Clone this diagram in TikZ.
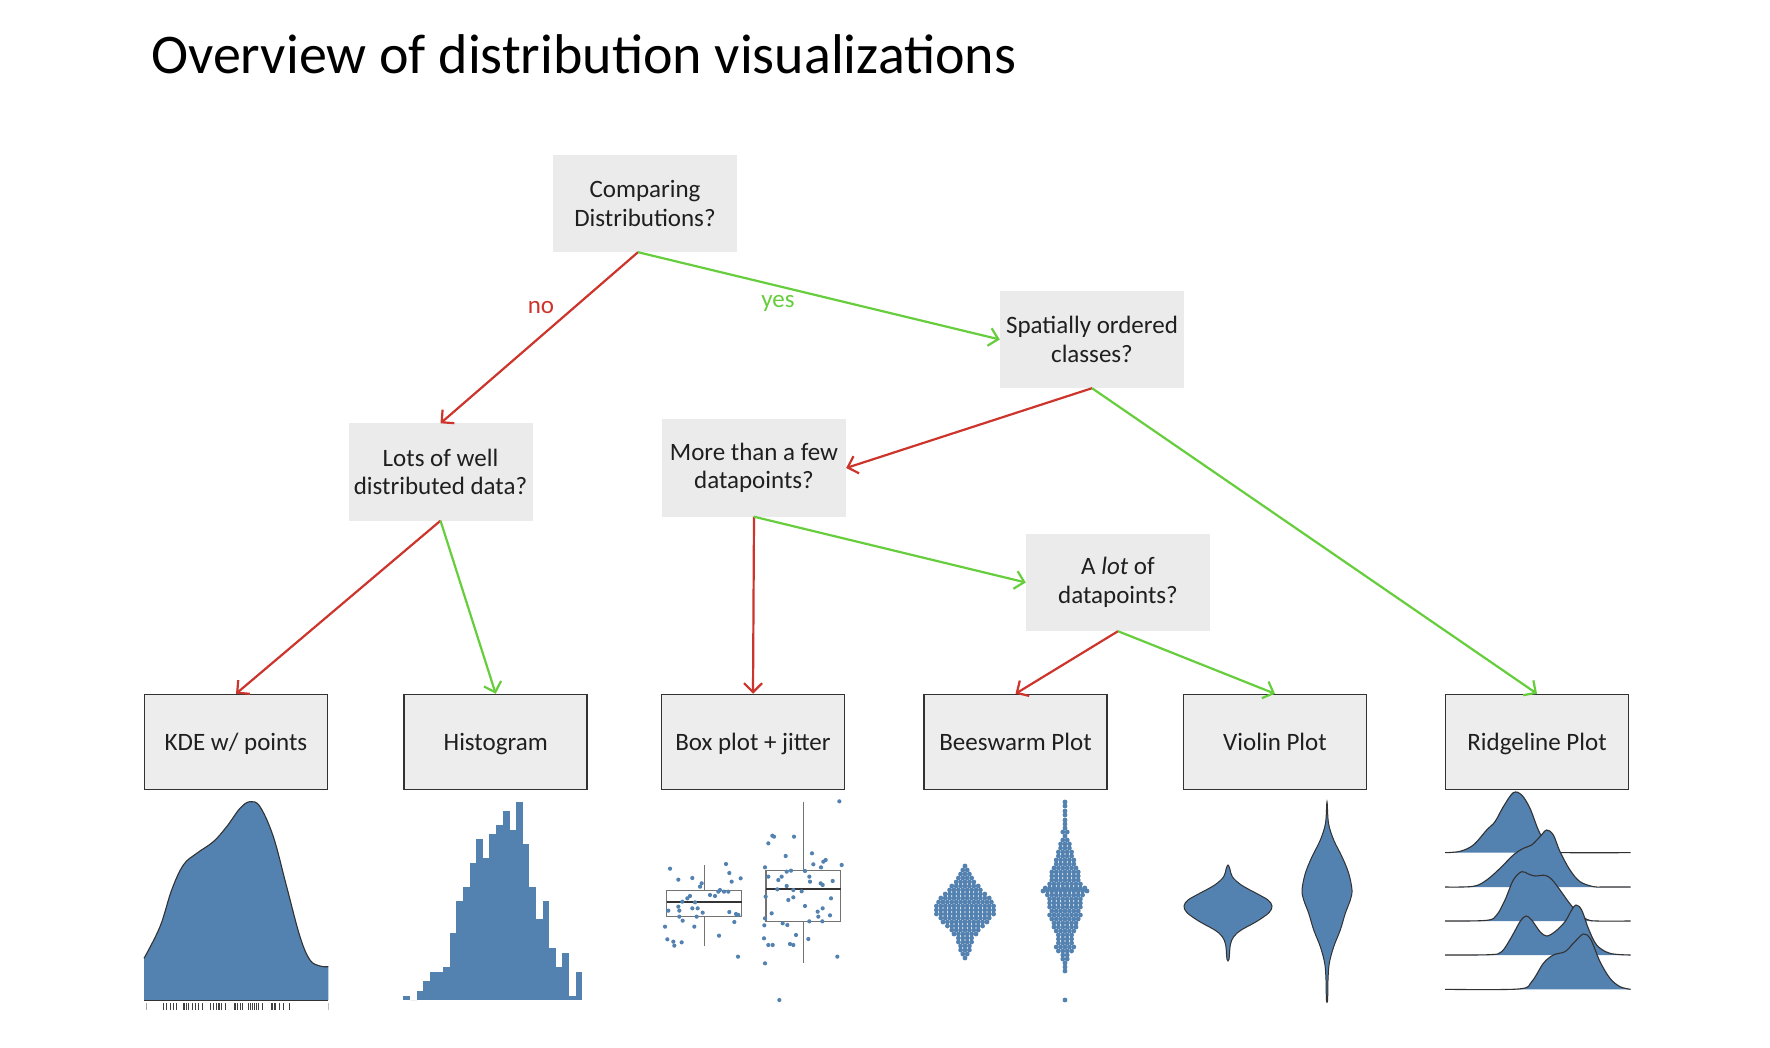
\documentclass[tikz,border=0pt]{standalone}
\usepackage{fontspec}
\setmainfont{Carlito}
\usetikzlibrary{arrows.meta}
\definecolor{boxfill}{RGB}{235,235,235}
\definecolor{pfill}{RGB}{237,237,237}
\definecolor{bluefill}{RGB}{83,129,176}
\definecolor{redarr}{RGB}{204,52,44}
\definecolor{greenarr}{RGB}{102,206,60}
\definecolor{outl}{RGB}{50,50,50}
\begin{document}
\begin{tikzpicture}[x=1pt,y=-1pt,
  qbox/.style={fill=boxfill, minimum width=184pt, minimum height=97pt, align=center, inner sep=0pt, font=\fontsize{25}{28.5}\selectfont, text=black!88},
  pbox/.style={qbox, fill=pfill, draw=outl, line width=1.5pt, minimum width=183pt, minimum height=95pt, text height=20pt, text depth=4pt},
  redarrow/.style={draw=redarr, line width=2.2pt, -{Straight Barb[length=9pt,width=18pt]}},
  greenarrow/.style={draw=greenarr, line width=2.2pt, -{Straight Barb[length=9pt,width=18pt]}},
  dot/.style={fill=bluefill},
  ridge/.style={draw=outl, line width=1.1pt},
]
\useasboundingbox (0,0) rectangle (1770,1048);
\fill[white] (0,0) rectangle (1770,1048);

% title
\node[anchor=base west, inner sep=0pt, font=\fontsize{56}{64}\selectfont] (title) at (151,74) {Overview of distribution visualizations};

% question boxes
\node[qbox] (cmp) at (645,203.5) {Comparing\\Distributions?};
\node[qbox] (spat) at (1092,339.5) {Spatially ordered\\classes?};
\node[qbox] (lots) at (440.5,472) {Lots of well\\distributed data?};
\node[qbox] (more) at (754,468) {More than a few\\datapoints?};
\node[qbox] (alot) at (1118,582.5) {A \textit{lot} of\\datapoints?};

% plot boxes
\node[pbox] (kde) at (236,742) {KDE w/ points};
\node[pbox] (hist) at (495.7,742) {Histogram};
\node[pbox] (boxp) at (753,742) {Box plot + jitter};
\node[pbox] (bees) at (1015.5,742) {Beeswarm Plot};
\node[pbox] (violin) at (1275,742) {Violin Plot};
\node[pbox] (ridgebox) at (1537,742) {Ridgeline Plot};

% connectors
\draw[redarrow] ([xshift=-7pt]cmp.south) -- (lots.north);
\draw[greenarrow] ([xshift=-7pt]cmp.south) -- (spat.west);
\draw[redarrow] (spat.south) -- (more.east);
\draw[greenarrow] (spat.south) -- (ridgebox.north);
\draw[redarrow] (lots.south) -- (kde.north);
\draw[greenarrow] (lots.south) -- (hist.north);
\draw[redarrow] (more.south) -- (boxp.north);
\draw[greenarrow] (more.south) -- (alot.west);
\draw[redarrow] (alot.south) -- (bees.north);
\draw[greenarrow] (alot.south) -- (violin.north);

\node[text=redarr, font=\fontsize{25}{28}\selectfont] (nolab) at (541,308) {no};
\node[text=greenarr, font=\fontsize{25}{28}\selectfont] (yeslab) at (778,303) {yes};

% KDE with rug
\begin{scope}[shift={(100,780)}, x=0.33333pt, y=-0.33333pt]
  \fill[bluefill] (132,660) -- plot[smooth, tension=0.6] coordinates {(132,535) (180,440) (215,330) (250,255) (290,220) (340,185) (380,140) (420,85) (450,65) (480,80) (520,170) (560,320) (600,470) (630,540) (660,558) (685,560)} -- (685,660) -- cycle;
  \draw[outl, line width=1.1pt] plot[smooth, tension=0.6] coordinates {(132,535) (180,440) (215,330) (250,255) (290,220) (340,185) (380,140) (420,85) (450,65) (480,80) (520,170) (560,320) (600,470) (630,540) (660,558) (685,560)};
  \draw[outl, line width=1pt] (132,660) -- (685,660);
  \foreach \xx in {190,200,210,220,230,250,254,258,266,276,286,296,306,330,340,350,354,358,364,376,402,406,412,420,428,446,450,456,462,468,476,486,514,518,522,526,538,550,568}
    \draw[black!75, line width=0.9pt] (\xx,670) -- (\xx,690);
  \draw[black!35, line width=0.7pt] (138,670) -- (138,690);
  \draw[black!25, line width=0.7pt] (684,670) -- (684,690);
\end{scope}

% Histogram
\foreach \h [count=\i from 0] in {4,0,9.3,18.7,28.3,28.3,32.7,66.7,99.3,112.7,137.3,160.7,141.7,165.7,175,189,170,198.3,156,112.7,80.7,99.3,51.7,33.3,47.3,4,28.3}
  \fill[bluefill] (403.3+6.63*\i,1000) rectangle ++(6.8,-\h);

% Box plot + jitter
\begin{scope}[shift={(650,790)}, x=0.33333pt, y=-0.33333pt]
  \draw[black!55, line width=1.1pt] (163,225) -- (163,302) (163,380) -- (163,467);
  \draw[black!55, line width=1.1pt] (50,302) rectangle (275,380);
  \draw[black!80, line width=1.8pt] (50,336) -- (275,336);
  \draw[black!55, line width=1.1pt] (460,35) -- (460,242) (460,394) -- (460,520);
  \draw[black!55, line width=1.1pt] (348,242) rectangle (572,394);
  \draw[black!80, line width=1.8pt] (348,297) -- (572,297);
  \foreach \px/\py in {60/236,85/269,127/264,228/222,238/249,272/265,245/275,155/280,150/290,120/318,112/325,97/335,55/362,85/350,88/362,127/355,143/355,135/337,158/368,140/380,88/380,98/392,45/410,133/410,207/437,253/396,238/366,258/372,265/375,52/448,70/455,73/467,95/457,264/500,180/315,195/318,210/300,222/305,235/305,205/305,
  568/34,367/137,372/140,355/160,432/140,407/198,486/190,490/223,520/215,527/210,513/232,575/225,345/232,355/260,385/270,395/260,410/245,423/242,465/243,478/260,480/275,512/280,518/285,548/273,382/298,410/288,430/300,455/304,347/320,415/330,430/322,543/325,465/348,518/355,503/365,505/380,540/376,365/370,345/385,478/394,517/394,398/400,412/405,343/406,438/435,475/447,342/445,355/465,368/465,420/462,430/465,562/500,345/520,388/630}
    \fill[dot] (\px,\py) circle[radius=2.1pt];
\end{scope}

% Beeswarm
\foreach \yy/\m in {866/0,870/1,874/2,878/3,882/4,886/6,890/7,894/9,898/11,902/12,906/13,910/13,914/13,918/11,922/10,926/8,930/6,934/5,938/3,942/3,946/2,950/2,954/1,958/0}
  \foreach \k in {0,...,\m}
    \fill[dot] (965-\m*2.2+\k*4.4,\yy) circle[radius=2.4pt];
\foreach \yy/\m in {802/0,806/0,811/0,815/0,820/0,824/0,828/0,832/1,836/0,840/1,844/2,848/2,852/3,856/3,860/4,864/4,868/5,872/6,876/6,880/6,884/7,888/9,891/10,895/8,899/7,903/7,907/7,911/6,915/7,919/6,923/5,927/5,931/4,935/3,939/3,943/3,947/4,951/3,955/1,959/1,963/0,967/0,971/0,1000/0}
  \foreach \k in {0,...,\m}
    \fill[dot] (1065-\m*2.2+\k*4.4,\yy) circle[radius=2.4pt];

% Violins
\filldraw[fill=bluefill, draw=outl, line width=1pt] plot[smooth cycle, tension=0.55] coordinates {
  (1228,865) (1229.7,868.3) (1232.3,876.7) (1241.3,885) (1256.3,893.3) (1268,900) (1272,906) (1269,912.7) (1256.3,921.7) (1241.3,930) (1233.7,936.7) (1230.3,945) (1229,959.3)
  (1227,959.3) (1225.7,945) (1222.3,936.7) (1214.7,930) (1199.7,921.7) (1187,912.7) (1184,906) (1188,900) (1199.7,893.3) (1214.7,885) (1223.7,876.7) (1226.3,868.3)};
\filldraw[fill=bluefill, draw=outl, line width=1pt] plot[smooth cycle, tension=0.55] coordinates {
  (1327,801.7) (1328.5,823.3) (1333.7,840) (1342,856.7) (1348.7,873.3) (1352,890) (1350.3,900) (1345.3,913.3) (1340.3,930) (1333.7,946.7) (1329.3,963.3) (1328,980) (1327.6,1000)
  (1326.4,1000) (1326,980) (1324.7,963.3) (1320.3,946.7) (1313.7,930) (1308.7,913.3) (1303.7,900) (1302,890) (1305.3,873.3) (1312,856.7) (1320.3,840) (1325.5,823.3)};

% Ridgeline
\begin{scope}[shift={(1170,790)}, x=0.33333pt, y=-0.33333pt]
  \fill[bluefill] plot[smooth, tension=0.55] coordinates {(825,188) (870,184) (910,165) (950,120) (975,95) (1000,50) (1030,8) (1055,15) (1080,55) (1105,120) (1130,165) (1160,185) (1190,188) (1382,188)} -- cycle;
  \draw[ridge] plot[smooth, tension=0.55] coordinates {(825,188) (870,184) (910,165) (950,120) (975,95) (1000,50) (1030,8) (1055,15) (1080,55) (1105,120) (1130,165) (1160,185) (1190,188) (1382,188)};
  \fill[bluefill] plot[smooth, tension=0.55] coordinates {(825,291) (910,289) (950,270) (990,235) (1030,195) (1060,175) (1085,165) (1110,140) (1130,120) (1150,135) (1170,185) (1200,240) (1230,275) (1270,290) (1300,291) (1382,291)} -- cycle;
  \draw[ridge] plot[smooth, tension=0.55] coordinates {(825,291) (910,289) (950,270) (990,235) (1030,195) (1060,175) (1085,165) (1110,140) (1130,120) (1150,135) (1170,185) (1200,240) (1230,275) (1270,290) (1300,291) (1382,291)};
  \fill[bluefill] plot[smooth, tension=0.55] coordinates {(825,393) (950,391) (980,375) (1005,330) (1030,270) (1055,245) (1075,252) (1095,258) (1125,256) (1145,268) (1170,300) (1195,335) (1220,365) (1250,388) (1280,393) (1382,393)} -- cycle;
  \draw[ridge] plot[smooth, tension=0.55] coordinates {(825,393) (950,391) (980,375) (1005,330) (1030,270) (1055,245) (1075,252) (1095,258) (1125,256) (1145,268) (1170,300) (1195,335) (1220,365) (1250,388) (1280,393) (1382,393)};
  \fill[bluefill] plot[smooth, tension=0.55] coordinates {(825,495) (960,494) (995,485) (1025,440) (1050,395) (1068,378) (1085,390) (1110,425) (1130,438) (1155,425) (1185,395) (1205,360) (1218,345) (1235,360) (1255,415) (1280,465) (1320,490) (1382,495)} -- cycle;
  \draw[ridge] plot[smooth, tension=0.55] coordinates {(825,495) (960,494) (995,485) (1025,440) (1050,395) (1068,378) (1085,390) (1110,425) (1130,438) (1155,425) (1185,395) (1205,360) (1218,345) (1235,360) (1255,415) (1280,465) (1320,490) (1382,495)};
  \fill[bluefill] plot[smooth, tension=0.55] coordinates {(825,598) (1045,597) (1085,575) (1120,520) (1150,495) (1185,485) (1210,460) (1240,432) (1262,448) (1290,515) (1320,565) (1350,590) (1382,598)} -- cycle;
  \draw[ridge] plot[smooth, tension=0.55] coordinates {(825,598) (1045,597) (1085,575) (1120,520) (1150,495) (1185,485) (1210,460) (1240,432) (1262,448) (1290,515) (1320,565) (1350,590) (1382,598)};
\end{scope}
\end{tikzpicture}
\end{document}
